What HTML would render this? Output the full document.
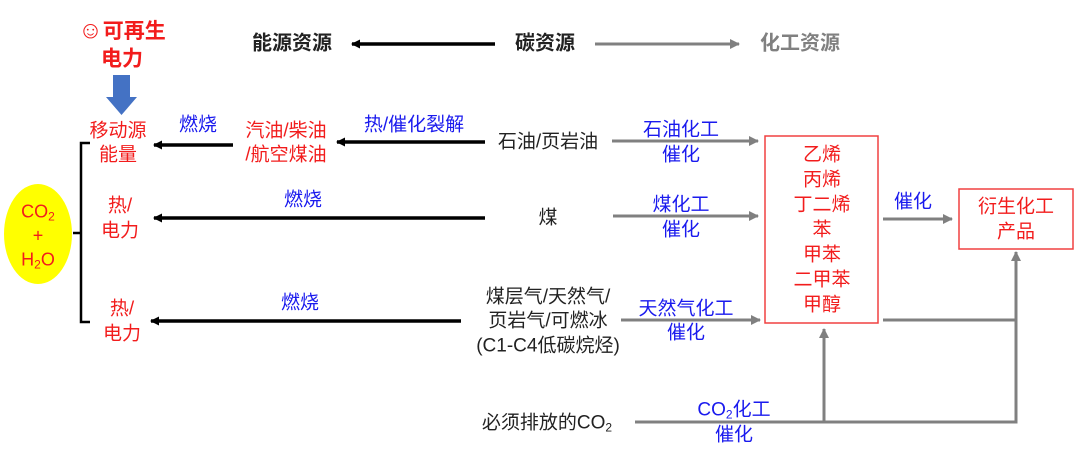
<!DOCTYPE html>
<html><head><meta charset="utf-8">
<style>
body{margin:0;width:1080px;height:467px;background:#fff;position:relative;overflow:hidden;font-family:"Liberation Sans","Noto Sans CJK SC",sans-serif;}
.t{position:absolute;transform:translate(-50%,-50%);white-space:nowrap;font-size:19px;line-height:25px;text-align:center;}
.r{color:#f21c1c}.b{color:#1a1aee}.k{color:#222}.g{color:#808080}
.bold{font-weight:bold}
sub{font-size:12px;vertical-align:-3px;line-height:0}
svg{position:absolute;left:0;top:0}
</style></head><body>
<svg width="1080" height="467">
<defs>
<marker id="ak" markerWidth="9" markerHeight="9" refX="8" refY="4.5" orient="auto" markerUnits="userSpaceOnUse"><path d="M0,0 L9,4.5 L0,9 Z" fill="#000"/></marker>
<marker id="ag" markerWidth="10" markerHeight="10" refX="9" refY="5" orient="auto" markerUnits="userSpaceOnUse"><path d="M0,0 L10,5 L0,10 Z" fill="#808080"/></marker>
</defs>
<ellipse cx="38" cy="234" rx="34" ry="50" fill="#ffff00"/>
<path d="M90,143 L81,143 L81,322 L90,322 M81,233 L73,233" stroke="#000" stroke-width="2.5" fill="none"/>
<path d="M113,75 H130 V97 H137 L121.5,115 L106,97 H113 Z" fill="#4472c4"/>
<g stroke="#000" stroke-width="3.5" fill="none">
<line x1="495" y1="44" x2="352" y2="44" marker-end="url(#ak)"/>
<line x1="233" y1="145" x2="154" y2="145" marker-end="url(#ak)"/>
<line x1="485" y1="142" x2="337" y2="142" marker-end="url(#ak)"/>
<line x1="485" y1="218" x2="154" y2="218" marker-end="url(#ak)"/>
<line x1="461" y1="321" x2="151" y2="321" marker-end="url(#ak)"/>
</g>
<g stroke="#808080" stroke-width="3" fill="none">
<line x1="595" y1="44" x2="739" y2="44" marker-end="url(#ag)"/>
<line x1="612" y1="141" x2="758" y2="141" marker-end="url(#ag)"/>
<line x1="613" y1="216" x2="758" y2="216" marker-end="url(#ag)"/>
<line x1="621" y1="320" x2="760" y2="320" marker-end="url(#ag)"/>
<line x1="883" y1="219" x2="952" y2="219" marker-end="url(#ag)"/>
<polyline points="883,320 1016,320"/>
<polyline points="635,422 1016,422 1016,252" marker-end="url(#ag)"/>
<line x1="824" y1="422" x2="824" y2="329" marker-end="url(#ag)"/>
</g>
<rect x="765" y="136" width="113" height="187" fill="none" stroke="#f04040" stroke-width="1.5"/>
<rect x="959" y="189" width="114" height="60" fill="none" stroke="#f04040" stroke-width="1.5"/>
</svg>

<div class="t r bold" style="left:122px;top:31px;font-size:21px"><span style="font-size:24px;font-weight:normal">☺</span>可再生</div>
<div class="t r bold" style="left:122px;top:59px;font-size:21px">电力</div>
<div class="t k bold" style="left:292px;top:44px;font-size:20px">能源资源</div>
<div class="t k bold" style="left:545px;top:44px;font-size:20px">碳资源</div>
<div class="t g bold" style="left:800px;top:44px;font-size:20px">化工资源</div>

<div class="t r" style="left:38px;top:212px;font-size:18px">CO<sub>2</sub></div>
<div class="t r" style="left:38px;top:236px;font-size:18px">+</div>
<div class="t r" style="left:38px;top:260px;font-size:18px">H<sub>2</sub>O</div>

<div class="t r" style="left:118px;top:131px">移动源</div>
<div class="t r" style="left:118px;top:155px">能量</div>
<div class="t r" style="left:120px;top:206px">热/</div>
<div class="t r" style="left:120px;top:231px">电力</div>
<div class="t r" style="left:122px;top:309px">热/</div>
<div class="t r" style="left:122px;top:334px">电力</div>

<div class="t b" style="left:198px;top:125px">燃烧</div>
<div class="t r" style="left:286px;top:131px">汽油/柴油</div>
<div class="t r" style="left:286px;top:155px">/航空煤油</div>
<div class="t b" style="left:414px;top:125px">热/催化裂解</div>
<div class="t k" style="left:548px;top:142px">石油/页岩油</div>
<div class="t b" style="left:303px;top:200px">燃烧</div>
<div class="t k" style="left:548px;top:218px">煤</div>
<div class="t b" style="left:300px;top:303px">燃烧</div>
<div class="t k" style="left:548px;top:297px">煤层气/天然气/</div>
<div class="t k" style="left:548px;top:321px">页岩气/可燃冰</div>
<div class="t k" style="left:548px;top:346px">(C1-C4低碳烷烃)</div>
<div class="t k" style="left:547px;top:423px">必须排放的CO<sub>2</sub></div>

<div class="t b" style="left:681px;top:130px">石油化工</div>
<div class="t b" style="left:681px;top:155px">催化</div>
<div class="t b" style="left:681px;top:205px">煤化工</div>
<div class="t b" style="left:681px;top:230px">催化</div>
<div class="t b" style="left:686px;top:309px">天然气化工</div>
<div class="t b" style="left:686px;top:333px">催化</div>
<div class="t b" style="left:734px;top:410px">CO<sub>2</sub>化工</div>
<div class="t b" style="left:734px;top:435px">催化</div>

<div class="t r" style="left:822px;top:155px">乙烯</div>
<div class="t r" style="left:822px;top:180px">丙烯</div>
<div class="t r" style="left:822px;top:205px">丁二烯</div>
<div class="t r" style="left:822px;top:230px">苯</div>
<div class="t r" style="left:822px;top:255px">甲苯</div>
<div class="t r" style="left:822px;top:280px">二甲苯</div>
<div class="t r" style="left:822px;top:305px">甲醇</div>

<div class="t b" style="left:913px;top:202px">催化</div>
<div class="t r" style="left:1016px;top:207px">衍生化工</div>
<div class="t r" style="left:1016px;top:232px">产品</div>
</body></html>
